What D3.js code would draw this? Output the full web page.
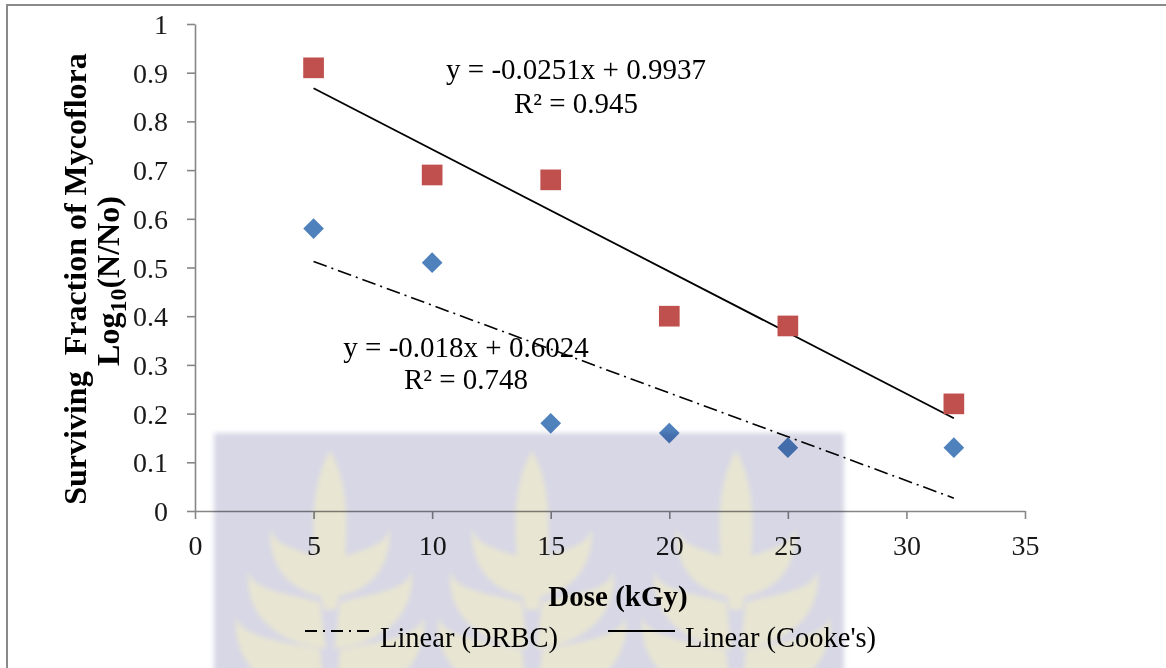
<!DOCTYPE html>
<html>
<head>
<meta charset="utf-8">
<script src="https://cdn.jsdelivr.net/npm/d3@7"></script>
<style>
  html, body { margin: 0; padding: 0; background: #fff; }
  svg { display: block; font-family: "Liberation Serif", "Times New Roman", serif; }
</style>
</head>
<body>
<svg id="chart" width="1166" height="668"></svg>
<script>
// Dose (kGy) at which surviving fractions were measured
const doses = [5, 10, 15, 20, 25, 32];
// Surviving fraction, Log10(N/No), per medium
const cookesValues = [0.91, 0.69, 0.68, 0.40, 0.38, 0.22];
const drbcValues = [0.58, 0.51, 0.18, 0.16, 0.13, 0.13];
// Linear trend lines: [slope, intercept, R²]
const cookesFit = [-0.0251, 0.9937, 0.945];
const drbcFit = [-0.018, 0.6024, 0.748];
// Axis ticks
const xTicks = [0, 5, 10, 15, 20, 25, 30, 35];
const yTicks = [0, 0.1, 0.2, 0.3, 0.4, 0.5, 0.6, 0.7, 0.8, 0.9, 1];
const legendLabels = ["Linear (DRBC)", "Linear (Cooke's)"];

const svg = d3.select("#chart");
const W = 1166, H = 668;
const margin = { left: 195, right: 141, top: 24, bottom: 157 };
const FS = 28;        // base font size

const x = d3.scaleLinear().domain([0, 35]).range([margin.left, W - margin.right]);
const y = d3.scaleLinear().domain([0, 1]).range([H - margin.bottom, margin.top]);

// outer frame
svg.append("rect")
  .attr("x", 7).attr("y", 5).attr("width", 1200).attr("height", 700)
  .attr("fill", "#fff").attr("stroke", "#8a8a8a").attr("stroke-width", 2);

function label(g, tx, ty, str, opts = {}) {
  return g.append("text")
    .attr("x", tx).attr("y", ty)
    .attr("text-anchor", opts.anchor || "start")
    .attr("font-size", opts.size || FS)
    .attr("font-weight", opts.weight || "normal")
    .attr("fill", opts.fill || "#000")
    .style("white-space", "pre")
    .text(str);
}

// axes
const axisColor = "#868686";
const xAxis = d3.axisBottom(x).tickValues(xTicks).tickSize(8).tickSizeOuter(0).tickFormat(d3.format("d"));
const yAxis = d3.axisLeft(y).tickValues(yTicks).tickSize(8).tickSizeOuter(0).tickFormat(d => d === 0 || d === 1 ? String(d) : d.toFixed(1));

const gx = svg.append("g").attr("transform", `translate(0,${y(0)})`).call(xAxis);
const gy = svg.append("g").attr("transform", `translate(${x(0)},0)`).call(yAxis);

[gx, gy].forEach(g => {
  g.select(".domain").attr("stroke", axisColor).attr("stroke-width", 1.6);
  g.selectAll(".tick line").attr("stroke", axisColor).attr("stroke-width", 1.6);
  g.selectAll(".tick text")
    .attr("font-family", "'Liberation Serif', 'Times New Roman', serif")
    .attr("font-size", FS).attr("fill", "#1a1a1a");
});
gx.selectAll(".tick text").attr("y", 44).attr("dy", null);
gy.selectAll(".tick text").attr("x", -27).attr("dy", "0.34em");

// trend lines over the measured dose range
const xr = d3.extent(doses);
const lineGen = d3.line().x(d => x(d[0])).y(d => y(d[1]));
function fitPoints(fit) { return xr.map(v => [v, fit[0] * v + fit[1]]); }

svg.append("path").datum(fitPoints(drbcFit))
  .attr("d", lineGen).attr("fill", "none").attr("stroke", "#000")
  .attr("stroke-width", 1.6).attr("stroke-dasharray", "14,5,2,5");
svg.append("path").datum(fitPoints(cookesFit))
  .attr("d", lineGen).attr("fill", "none").attr("stroke", "#000")
  .attr("stroke-width", 1.8);

// markers
const square = d3.symbol().type(d3.symbolSquare).size(428)();
const diamond = d3.symbol().type(d3.symbolSquare).size(214)();

svg.append("g").selectAll("path").data(doses.map((d, i) => [d, drbcValues[i]]))
  .join("path")
  .attr("d", diamond)
  .attr("transform", d => `translate(${x(d[0])},${y(d[1])}) rotate(45)`)
  .attr("fill", "#4F81BD");

svg.append("g").selectAll("path").data(doses.map((d, i) => [d, cookesValues[i]]))
  .join("path")
  .attr("d", square)
  .attr("transform", d => `translate(${x(d[0])},${y(d[1])})`)
  .attr("fill", "#C0504D");

// equation labels
const fmtEq = f => `y = ${f[0]}x + ${f[1]}`;
const fmtR = f => `R² = ${f[2]}`;
label(svg, 576, 79, fmtEq(cookesFit), { anchor: "middle", size: 29 });
label(svg, 576, 113, fmtR(cookesFit), { anchor: "middle", size: 29 });
label(svg, 466, 357, fmtEq(drbcFit), { anchor: "middle", size: 29 });
label(svg, 466, 389, fmtR(drbcFit), { anchor: "middle", size: 29 });

// axis titles
label(svg, 618, 606, "Dose (kGy)", { anchor: "middle", weight: "bold", size: 29 });

const yTitle = svg.append("g").attr("transform", "translate(86,279) rotate(-90)");
yTitle.append("text").attr("text-anchor", "middle").attr("font-size", 32)
  .attr("font-weight", "bold").style("white-space", "pre").text("Surviving  Fraction of Mycoflora");
const yTitle2 = svg.append("g").attr("transform", "translate(119,281) rotate(-90)")
  .append("text").attr("text-anchor", "middle").attr("font-size", 32).attr("font-weight", "bold");
yTitle2.append("tspan").text("Log");
yTitle2.append("tspan").attr("font-size", 24).attr("dy", 7).text("10");
yTitle2.append("tspan").attr("dy", -7).text("(N/No)");

// legend
const leg = svg.append("g");
leg.append("line").attr("x1", 305).attr("x2", 372).attr("y1", 631).attr("y2", 631)
  .attr("stroke", "#000").attr("stroke-width", 1.8).attr("stroke-dasharray", "12,6,2,6");
label(leg, 380, 647, legendLabels[0], { size: 28.5 });
leg.append("line").attr("x1", 608).attr("x2", 675).attr("y1", 631).attr("y2", 631)
  .attr("stroke", "#000").attr("stroke-width", 1.8);
label(leg, 685, 647, legendLabels[1], { size: 28.5 });

// faint institutional watermark laid over the lower plot area
const defs = svg.append("defs");
defs.append("filter").attr("id", "soft").append("feGaussianBlur").attr("stdDeviation", 2.5);
const wm = svg.append("g").style("mix-blend-mode", "multiply").attr("filter", "url(#soft)");
wm.append("rect").attr("x", 214).attr("y", 433).attr("width", 630).attr("height", 240).attr("fill", "#d7d7e6");

const leafColor = "#e8e5d2";
function leafPair(g, tipX, tipY, baseY, thick) {
  [-1, 1].forEach(s => {
    g.append("path")
      .attr("d", `M ${s * 10},${baseY} C ${s * tipX * 0.6},${baseY - 10} ${s * tipX * 0.95},${tipY + 20} ${s * tipX},${tipY}
                  C ${s * tipX * 1.05},${baseY + thick * 0.6} ${s * tipX * 0.5},${baseY + thick * 1.2} ${s * 4},${baseY + thick * 1.3} Z`)
      .attr("fill", leafColor);
  });
}
[330, 532, 736].forEach(cx => {
  const t = wm.append("g").attr("transform", `translate(${cx},450)`);
  t.append("path").attr("d", "M0,0 C20,35 22,90 6,160 L-6,160 C-22,90 -20,35 0,0 Z").attr("fill", leafColor);
  leafPair(t, 60, 76, 108, 30);
  leafPair(t, 82, 120, 152, 36);
  leafPair(t, 94, 166, 200, 40);
});
</script>
</body>
</html>
